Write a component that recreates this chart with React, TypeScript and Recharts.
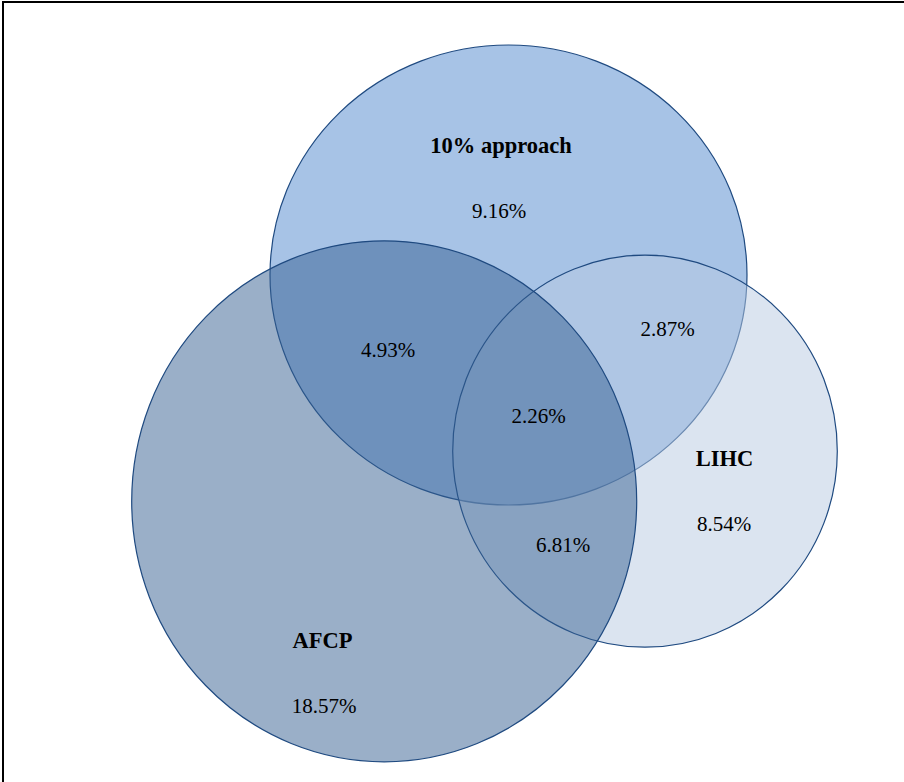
import React from "react";
import { ScatterChart, Scatter, XAxis, YAxis } from "recharts";

// set names and the share that falls only in each set
const setNames = ["10% approach", "LIHC", "AFCP"];
const onlyShares = [9.16, 8.54, 18.57];

// overlaps
const overlapNames = ["10% approach & AFCP", "10% approach & LIHC", "AFCP & LIHC", "all three"];
const overlapShares = [4.93, 2.87, 6.81, 2.26];

// circle layout in chart units (drawn in this order)
const circleX = [508.5, 645, 384.2];
const circleY = [275, 451.2, 501.3];
const circleRx = [238.5, 192.3, 252.5];
const circleRy = [230, 196, 260.5];
const circleFill = ["#4f87cd", "#b7c9e1", "#355f91"];

// label layout in chart units (baselines)
const nameX = [501, 724.5, 322.5];
const nameY = [153, 466, 648];
const onlyX = [499, 724, 324];
const onlyY = [218, 531, 713];
const overlapX = [388, 667.5, 563, 538.7];
const overlapY = [357, 336, 552, 423];

const W = 904;
const H = 782;

const circles = setNames.map((name, i) => ({
  name,
  x: circleX[i],
  y: circleY[i],
  rx: circleRx[i],
  ry: circleRy[i],
  fill: circleFill[i],
}));

const labels = [
  ...setNames.map((name, i) => ({ x: nameX[i], y: nameY[i], text: name, bold: true })),
  ...onlyShares.map((v, i) => ({ x: onlyX[i], y: onlyY[i], text: `${v.toFixed(2)}%`, bold: false })),
  ...overlapShares.map((v, i) => ({
    x: overlapX[i],
    y: overlapY[i],
    text: `${v.toFixed(2)}%`,
    bold: false,
    name: overlapNames[i],
  })),
];

const CircleShape = (props: any) => {
  const { cx, cy, payload } = props;
  return (
    <ellipse
      cx={cx}
      cy={cy}
      rx={payload.rx}
      ry={payload.ry}
      fill={payload.fill}
      fillOpacity={0.5}
      stroke="#1f4a80"
      strokeWidth={1.2}
    />
  );
};

const LabelShape = (props: any) => {
  const { cx, cy, payload } = props;
  return (
    <text
      x={cx}
      y={cy}
      textAnchor="middle"
      fontFamily="'Liberation Serif', 'Times New Roman', serif"
      fontSize={payload.bold ? 22.5 : 21}
      fontWeight={payload.bold ? 700 : 400}
      fill="#000"
    >
      {payload.text}
    </text>
  );
};

export default function App() {
  return (
    <div
      style={{
        position: "absolute",
        left: 0,
        top: 0,
        width: W,
        height: H,
        overflow: "hidden",
        background: "#fff",
      }}
    >
      <div
        style={{
          position: "absolute",
          left: 2,
          top: 1,
          width: W + 40,
          height: H + 40,
          border: "2px solid #000",
        }}
      />
      <div style={{ position: "absolute", left: 0, top: 0 }}>
        <ScatterChart width={W} height={H} margin={{ top: 0, right: 0, bottom: 0, left: 0 }}>
          <XAxis type="number" dataKey="x" domain={[0, W]} hide />
          <YAxis type="number" dataKey="y" domain={[0, H]} reversed hide />
          <Scatter data={circles} shape={CircleShape} isAnimationActive={false} />
          <Scatter data={labels} shape={LabelShape} isAnimationActive={false} />
        </ScatterChart>
      </div>
    </div>
  );
}
